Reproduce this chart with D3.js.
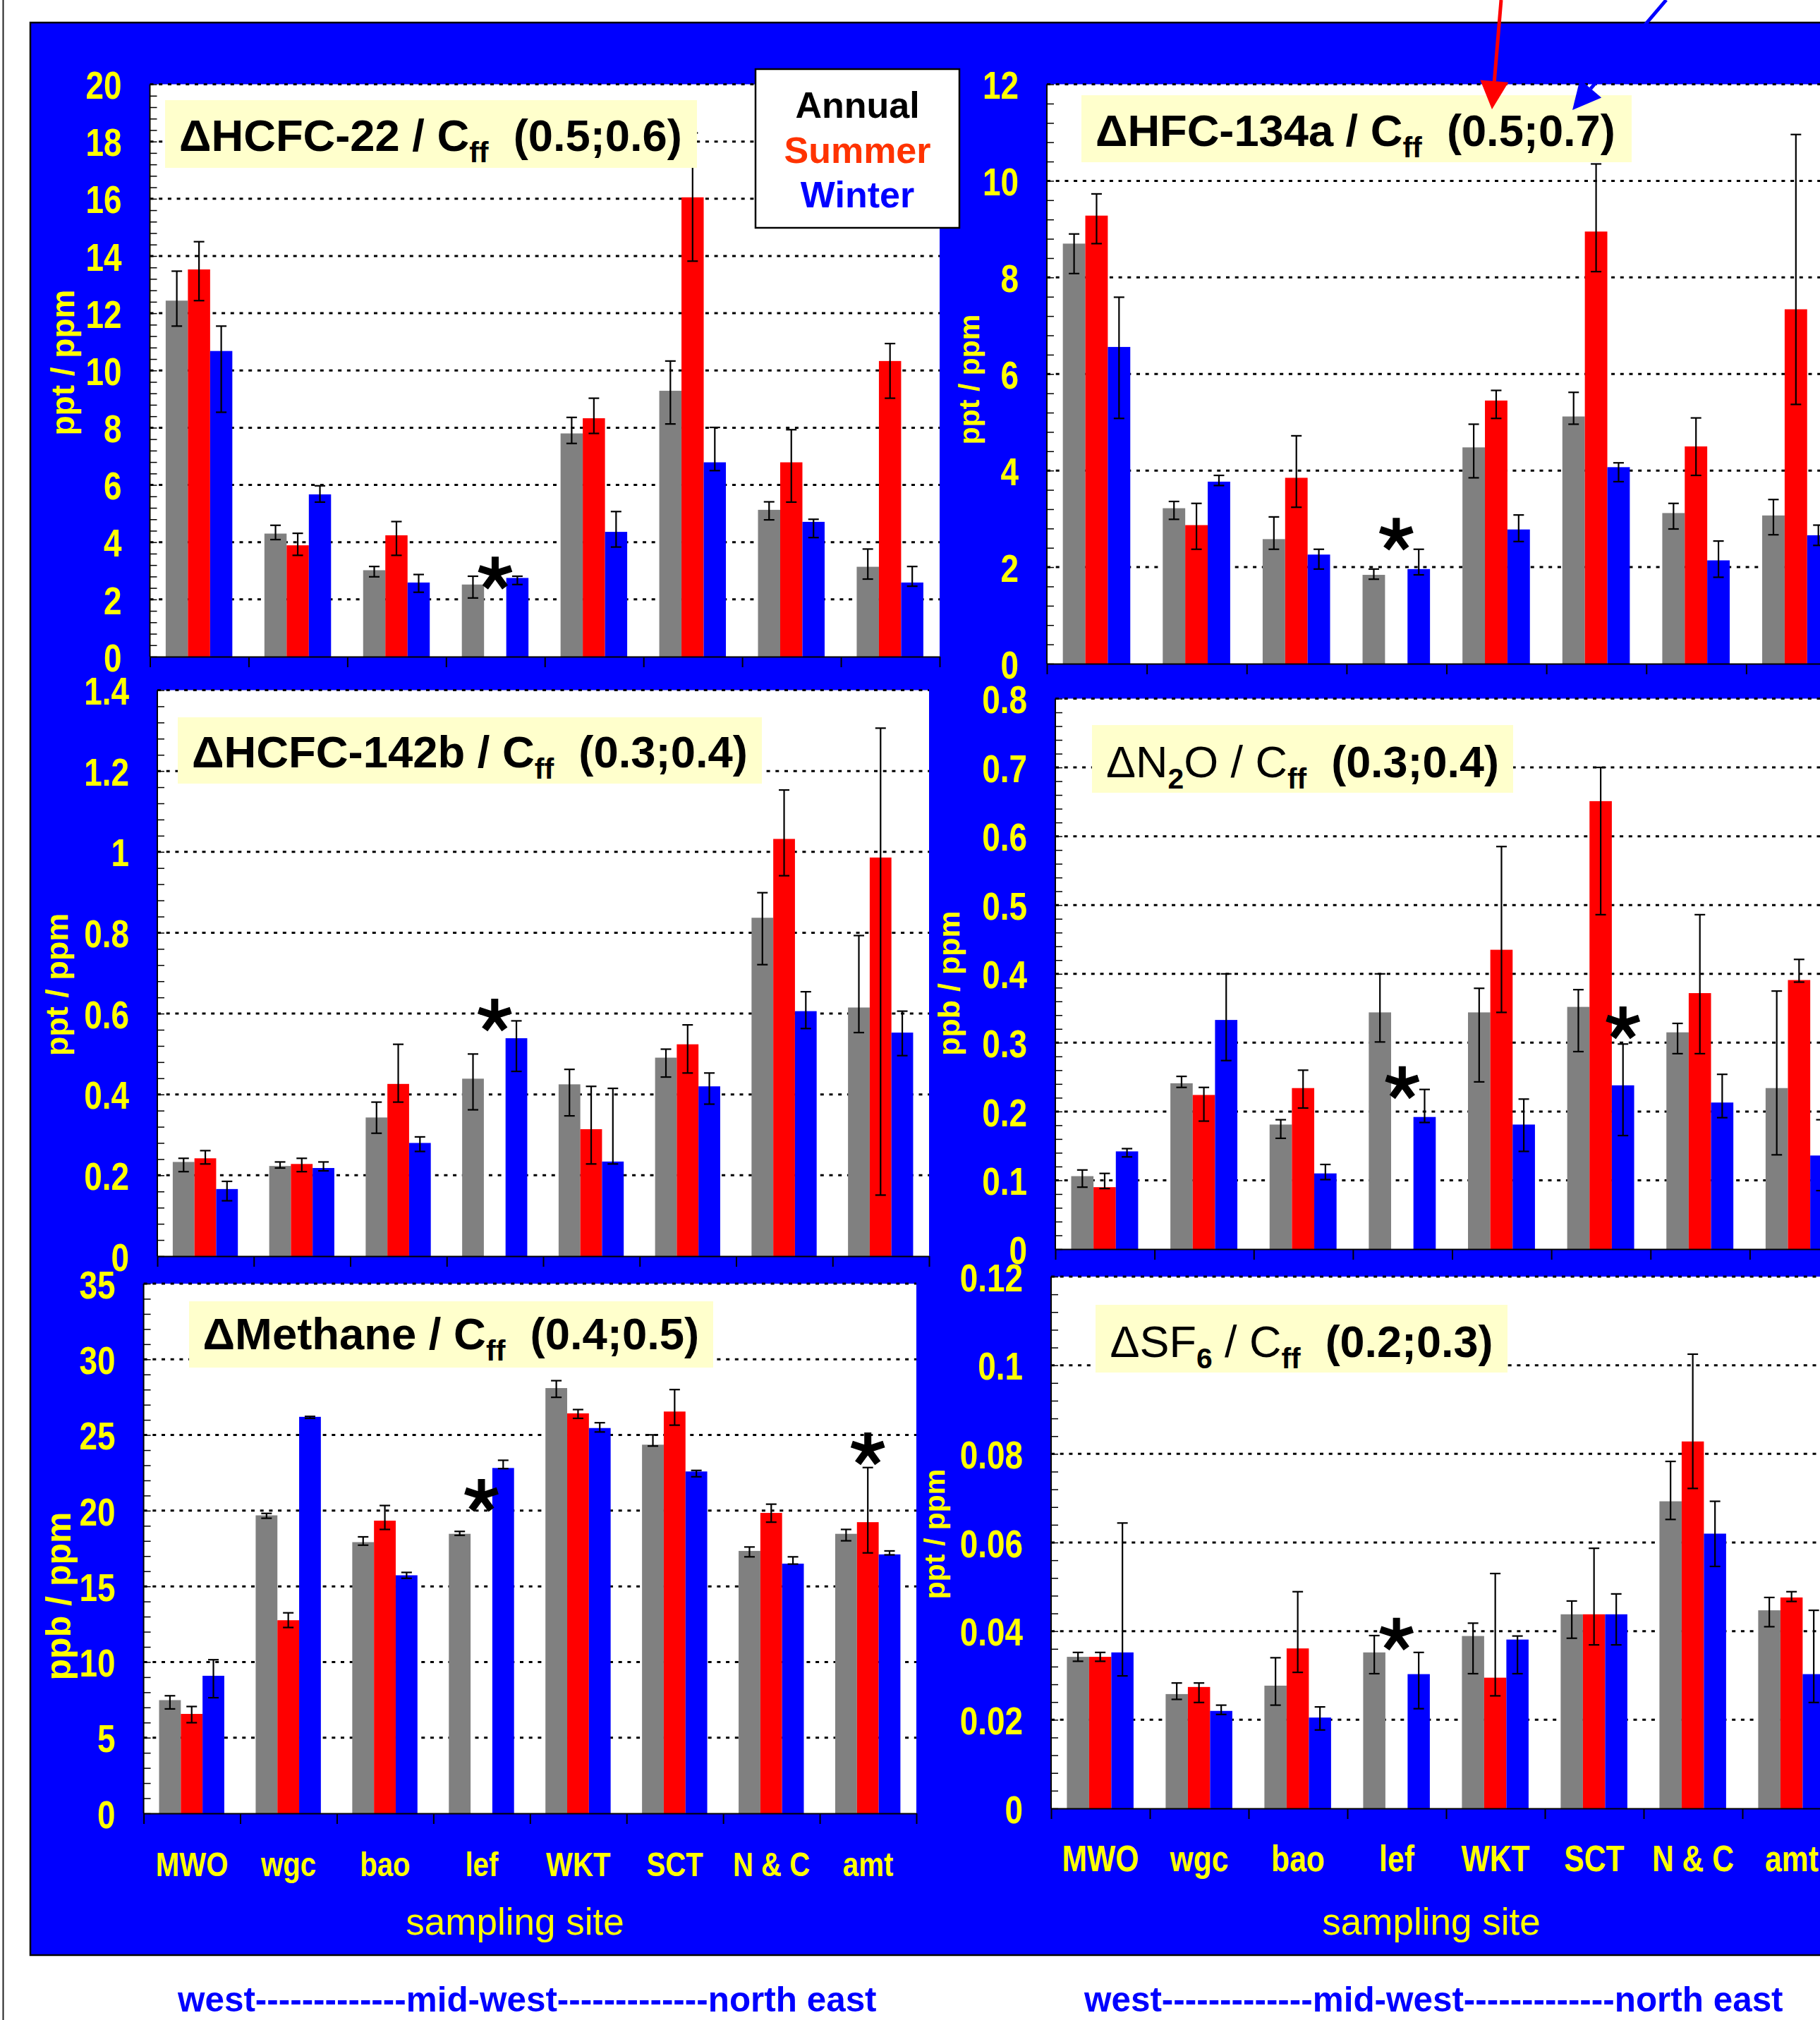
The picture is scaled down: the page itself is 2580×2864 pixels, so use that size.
<!DOCTYPE html>
<html>
<head>
<meta charset="utf-8">
<script src="https://cdn.jsdelivr.net/npm/d3@7"></script>
<style>
  body { margin: 0; background: #fff; }
  svg text { font-family: "Liberation Sans", Arial, sans-serif; }
</style>
</head>
<body>
<div id="chart"></div>
<script>
// categories
var sites = ["MWO", "wgc", "bao", "lef", "WKT", "SCT", "N & C", "amt"];
var seasons = ["Annual", "Summer", "Winter"];
var seasonColors = ["#808080", "#ff0000", "#0000ff"];

// dHCFC-22 / Cff
var hcfc22Annual = [12.44, 4.30, 3.02, 2.52, 7.80, 9.29, 5.13, 3.14];
var hcfc22Summer = [13.53, 3.89, 4.24, null, 8.33, 16.05, 6.79, 10.33];
var hcfc22Winter = [10.68, 5.67, 2.59, 2.75, 4.36, 6.79, 4.71, 2.59];
var hcfc22AnnualErr = [[11.55, 13.47], [4.09, 4.59], [2.79, 3.15], [2.05, 2.81], [7.45, 8.36], [8.13, 10.33], [4.78, 5.41], [2.71, 3.76]];
var hcfc22SummerErr = [[12.44, 14.50], [3.54, 4.31], [3.54, 4.72], null, [7.80, 9.03], [13.82, 18.30], [5.40, 7.93], [9.03, 10.94]];
var hcfc22WinterErr = [[8.54, 11.55], [5.40, 5.97], [2.25, 2.87], [2.52, 2.81], [3.83, 5.07], [6.50, 8.01], [4.16, 4.80], [2.46, 3.15]];
var hcfc22Ticks = ["0", "2", "4", "6", "8", "10", "12", "14", "16", "18", "20"];
var hcfc22Stars = [{site: "lef", season: "Summer", value: 2.9}];

// dHFC-134a / Cff
var hfc134aAnnual = [8.70, 3.22, 2.58, 1.84, 4.48, 5.12, 3.12, 3.07];
var hfc134aSummer = [9.28, 2.87, 3.85, null, 5.45, 8.95, 4.50, 7.34];
var hfc134aWinter = [6.56, 3.77, 2.26, 1.96, 2.78, 4.07, 2.14, 2.66];
var hfc134aAnnualErr = [[8.08, 8.90], [2.99, 3.36], [2.37, 3.04], [1.75, 1.96], [3.85, 4.96], [4.96, 5.62], [2.79, 3.32], [2.67, 3.40]];
var hfc134aSummerErr = [[8.70, 9.73], [2.37, 3.32], [3.24, 4.72], null, [5.08, 5.66], [8.12, 10.35], [3.90, 5.09], [5.37, 10.96]];
var hfc134aWinterErr = [[5.08, 7.59], [3.69, 3.90], [1.96, 2.37], [1.84, 2.37], [2.53, 3.08], [3.77, 4.16], [1.79, 2.54], [2.45, 2.87]];
var hfc134aTicks = ["0", "2", "4", "6", "8", "10", "12"];
var hfc134aStars = [{site: "lef", season: "Summer", value: 2.67}];

// dHCFC-142b / Cff
var hcfc142bAnnual = [0.233, 0.223, 0.343, 0.439, 0.425, 0.491, 0.837, 0.615];
var hcfc142bSummer = [0.242, 0.228, 0.426, null, 0.314, 0.524, 1.032, 0.986];
var hcfc142bWinter = [0.166, 0.218, 0.280, 0.539, 0.234, 0.420, 0.606, 0.553];
var hcfc142bAnnualErr = [[0.209, 0.242], [0.218, 0.233], [0.304, 0.381], [0.362, 0.500], [0.347, 0.462], [0.443, 0.512], [0.721, 0.899], [0.553, 0.793]];
var hcfc142bSummerErr = [[0.228, 0.261], [0.209, 0.242], [0.381, 0.524], null, [0.228, 0.420], [0.453, 0.572], [0.941, 1.153], [0.151, 1.306]];
var hcfc142bWinterErr = [[0.137, 0.185], [0.211, 0.233], [0.259, 0.295], [0.457, 0.582], [0.228, 0.415], [0.376, 0.453], [0.563, 0.654], [0.496, 0.606]];
var hcfc142bTicks = ["0", "0.2", "0.4", "0.6", "0.8", "1", "1.2", "1.4"];
var hcfc142bStars = [{site: "lef", season: "Summer", value: 0.595}];

// dN2O / Cff
var n2oAnnual = [0.106, 0.241, 0.181, 0.344, 0.344, 0.352, 0.315, 0.234];
var n2oSummer = [0.090, 0.224, 0.234, null, 0.435, 0.651, 0.372, 0.391];
var n2oWinter = [0.142, 0.333, 0.110, 0.192, 0.181, 0.238, 0.213, 0.136];
var n2oAnnualErr = [[0.090, 0.115], [0.235, 0.251], [0.161, 0.188], [0.301, 0.400], [0.243, 0.379], [0.287, 0.377], [0.284, 0.328], [0.137, 0.375]];
var n2oSummerErr = [[0.088, 0.110], [0.186, 0.235], [0.205, 0.260], null, [0.344, 0.585], [0.486, 0.700], [0.284, 0.486], [0.388, 0.421]];
var n2oWinterErr = [[0.134, 0.146], [0.274, 0.400], [0.101, 0.123], [0.184, 0.232], [0.142, 0.218], [0.165, 0.298], [0.191, 0.254], [0.085, 0.188]];
var n2oTicks = ["0", "0.1", "0.2", "0.3", "0.4", "0.5", "0.6", "0.7", "0.8"];
var n2oStars = [{site: "lef", season: "Summer", value: 0.241}, {site: "SCT", season: "Winter", value: 0.328}];

// dMethane / Cff
var ch4Annual = [7.48, 19.69, 17.92, 18.47, 28.10, 24.36, 17.34, 18.47];
var ch4Summer = [6.57, 12.76, 19.34, null, 26.43, 26.55, 19.85, 19.24];
var ch4Winter = [9.09, 26.20, 15.73, 22.82, 25.46, 22.59, 16.50, 17.11];
var ch4AnnualErr = [[6.90, 7.77], [19.50, 19.82], [17.72, 18.27], [18.37, 18.63], [27.49, 28.59], [24.27, 25.01], [16.95, 17.60], [18.01, 18.76]];
var ch4SummerErr = [[5.99, 7.06], [12.28, 13.25], [18.76, 20.34], null, [26.10, 26.68], [25.65, 28.00], [19.24, 20.43], [17.21, 22.85]];
var ch4WinterErr = [[7.64, 10.15], [26.10, 26.23], [15.53, 15.92], [22.78, 23.33], [25.20, 25.81], [22.24, 22.66], [16.47, 16.95], [17.08, 17.34]];
var ch4Ticks = ["0", "5", "10", "15", "20", "25", "30", "35"];
var ch4Stars = [{site: "lef", season: "Summer", value: 20.97}, {site: "amt", season: "Summer", value: 24.05}];

// dSF6 / Cff
var sf6Annual = [0.0342, 0.0258, 0.0277, 0.0352, 0.0389, 0.0438, 0.0693, 0.0447];
var sf6Summer = [0.0342, 0.0274, 0.0361, null, 0.0295, 0.0438, 0.0828, 0.0476];
var sf6Winter = [0.0352, 0.0220, 0.0205, 0.0303, 0.0381, 0.0438, 0.0620, 0.0303];
var sf6AnnualErr = [[0.0332, 0.0352], [0.0246, 0.0283], [0.0233, 0.0340], [0.0304, 0.0390], [0.0304, 0.0418], [0.0384, 0.0468], [0.0652, 0.0783], [0.0410, 0.0476]];
var sf6SummerErr = [[0.0332, 0.0352], [0.0239, 0.0283], [0.0307, 0.0489], null, [0.0254, 0.0530], [0.0369, 0.0587], [0.0722, 0.1025], [0.0467, 0.0489]];
var sf6WinterErr = [[0.0299, 0.0644], [0.0212, 0.0233], [0.0177, 0.0229], [0.0225, 0.0352], [0.0304, 0.0389], [0.0369, 0.0484], [0.0546, 0.0693], [0.0239, 0.0447]];
var sf6Ticks = ["0", "0.02", "0.04", "0.06", "0.08", "0.1", "0.12"];
var sf6Stars = [{site: "lef", season: "Summer", value: 0.0392}];

// title pieces: [text, style]
var hcfc22Title = [["\u0394HCFC-22 / C", "b"], ["ff", "sub"], ["  (0.5;0.6)", "b"]];
var hfc134aTitle = [["\u0394HFC-134a / C", "b"], ["ff", "sub"], ["  (0.5;0.7)", "b"]];
var hcfc142bTitle = [["\u0394HCFC-142b / C", "b"], ["ff", "sub"], ["  (0.3;0.4)", "b"]];
var n2oTitle = [["\u0394N", "n"], ["2", "sub"], ["O / C", "n"], ["ff", "sub"], ["  ", "n"], ["(0.3;0.4)", "b"]];
var ch4Title = [["\u0394Methane / C", "b"], ["ff", "sub"], ["  (0.4;0.5)", "b"]];
var sf6Title = [["\u0394SF", "n"], ["6", "sub"], [" / C", "n"], ["ff", "sub"], ["  ", "n"], ["(0.2;0.3)", "b"]];

var regionLabel = "west-------------mid-west-------------north east";

// page size
var svgWidth = 2580;
var svgHeight = 2864;

// no narrow face installed: squeeze the bold face instead
var squeeze = 0.82;

var svg = d3.select("#chart")
  .append("svg")
  .attr("width", svgWidth)
  .attr("height", svgHeight);

svg.append("rect").attr("width", svgWidth).attr("height", svgHeight).attr("fill", "#fff");
svg.append("line")
  .attr("x1", 4.5).attr("x2", 4.5).attr("y1", 0).attr("y2", svgHeight)
  .attr("stroke", "#222").attr("stroke-width", 2);

// blue backdrop
svg.append("rect")
  .attr("x", 43).attr("y", 32)
  .attr("width", svgWidth).attr("height", 2772 - 32)
  .attr("fill", "#0000ff")
  .attr("stroke", "#000").attr("stroke-width", 2.5);

// layout of each panel
var panels = [
  {left: 212.5, right: 1332, top: 119.5, bottom: 931, ticks: hcfc22Ticks,
   series: [hcfc22Annual, hcfc22Summer, hcfc22Winter], errs: [hcfc22AnnualErr, hcfc22SummerErr, hcfc22WinterErr],
   stars: hcfc22Stars, yTitle: "ppt / ppm", yTitlePos: [89, 514, 46],
   title: hcfc22Title, tBox: [234, 142, 988, 238], tPos: [254, 214, 713]},
  {left: 1484, right: 2617, top: 119.5, bottom: 941, ticks: hfc134aTicks,
   series: [hfc134aAnnual, hfc134aSummer, hfc134aWinter], errs: [hfc134aAnnualErr, hfc134aSummerErr, hfc134aWinterErr],
   stars: hfc134aStars, yTitle: "ppt / ppm", yTitlePos: [1374, 538, 41],
   title: hfc134aTitle, tBox: [1533, 135, 2313, 230], tPos: [1553, 207, 737]},
  {left: 223, right: 1317, top: 978.5, bottom: 1781, ticks: hcfc142bTicks,
   series: [hcfc142bAnnual, hcfc142bSummer, hcfc142bWinter], errs: [hcfc142bAnnualErr, hcfc142bSummerErr, hcfc142bWinterErr],
   stars: hcfc142bStars, yTitle: "ppt / ppm", yTitlePos: [80, 1396, 45],
   title: hcfc142bTitle, tBox: [252, 1017, 1080, 1111], tPos: [272, 1088, 788]},
  {left: 1496, right: 2621, top: 990.5, bottom: 1771, ticks: n2oTicks,
   series: [n2oAnnual, n2oSummer, n2oWinter], errs: [n2oAnnualErr, n2oSummerErr, n2oWinterErr],
   stars: n2oStars, yTitle: "ppb / ppm", yTitlePos: [1345, 1394, 43],
   title: n2oTitle, tBox: [1548, 1028, 2145, 1124], tPos: [1568, 1102, 557]},
  {left: 203.6, right: 1299, top: 1820, bottom: 2571, ticks: ch4Ticks,
   series: [ch4Annual, ch4Summer, ch4Winter], errs: [ch4AnnualErr, ch4SummerErr, ch4WinterErr],
   stars: ch4Stars, yTitle: "ppb / ppm", yTitlePos: [82, 2263, 50],
   title: ch4Title, tBox: [268, 1845, 1011, 1939], tPos: [287.5, 1913, 704],
   xLabels: 49, xBase: 2660, siteTitle: 730},
  {left: 1490, right: 2610, top: 1810, bottom: 2564, ticks: sf6Ticks,
   series: [sf6Annual, sf6Summer, sf6Winter], errs: [sf6AnnualErr, sf6SummerErr, sf6WinterErr],
   stars: sf6Stars, yTitle: "ppt / ppm", yTitlePos: [1325, 2175, 41],
   title: sf6Title, tBox: [1553, 1850, 2137, 1946], tPos: [1573.5, 1924, 543],
   xLabels: 52, xBase: 2653, siteTitle: 2029}
];

panels.forEach(drawPanel);

function drawPanel(p) {
  var g = svg.append("g");
  var tickVals = p.ticks.map(Number);
  var x0 = d3.scaleBand().domain(sites).range([p.left, p.right]);
  var bw = x0.bandwidth();
  var xs = d3.scaleBand().domain(seasons).range([bw * 0.16, bw * 0.835]);
  var y = d3.scaleLinear().domain([0, d3.max(tickVals)]).range([p.bottom, p.top]);

  // plot area
  g.append("rect")
    .attr("x", p.left).attr("y", p.top)
    .attr("width", p.right - p.left).attr("height", p.bottom - p.top)
    .attr("fill", "#fff");

  // dotted grid
  g.selectAll(".grid")
    .data(tickVals.slice(1))
    .enter()
    .append("line")
    .attr("x1", p.left).attr("x2", p.right)
    .attr("y1", d => y(d)).attr("y2", d => y(d))
    .attr("stroke", "#000")
    .attr("stroke-width", 3)
    .attr("stroke-dasharray", "5 7.7");

  // minor ticks inside the plot
  var step = tickVals[1] - tickVals[0];
  var minor = d3.range(0, (tickVals.length - 1) * 5 + 1).map(i => i * step / 5);
  g.append("g")
    .attr("transform", `translate(${p.left},0)`)
    .call(d3.axisRight(y).tickValues(minor).tickSize(10).tickFormat(""))
    .call(a => a.select(".domain").remove())
    .selectAll("line").attr("stroke", "#000").attr("stroke-width", 1.5);

  // bars
  var rows = sites.map((s, i) => ({
    site: s,
    vals: seasons.map((k, j) => ({season: k, v: p.series[j][i], err: p.errs[j][i], color: seasonColors[j]}))
  }));
  var groups = g.selectAll(".site")
    .data(rows)
    .enter()
    .append("g")
    .attr("transform", d => `translate(${x0(d.site)},0)`);

  groups.selectAll("rect")
    .data(d => d.vals.filter(v => v.v != null))
    .enter()
    .append("rect")
    .attr("x", d => xs(d.season))
    .attr("width", xs.bandwidth())
    .attr("y", d => y(d.v))
    .attr("height", d => p.bottom - y(d.v))
    .attr("fill", d => d.color);

  // error bars
  var cap = 7.5;
  var eb = groups.selectAll(".err")
    .data(d => d.vals.filter(v => v.err))
    .enter()
    .append("g")
    .attr("stroke", "#000")
    .attr("stroke-width", 2.2);
  eb.append("line")
    .attr("x1", d => xs(d.season) + xs.bandwidth() / 2)
    .attr("x2", d => xs(d.season) + xs.bandwidth() / 2)
    .attr("y1", d => y(d.err[0])).attr("y2", d => y(d.err[1]));
  [0, 1].forEach(function(k) {
    eb.append("line")
      .attr("x1", d => xs(d.season) + xs.bandwidth() / 2 - cap)
      .attr("x2", d => xs(d.season) + xs.bandwidth() / 2 + cap)
      .attr("y1", d => y(d.err[k])).attr("y2", d => y(d.err[k]));
  });

  // y axis line and labels
  g.append("line")
    .attr("x1", p.left).attr("x2", p.left).attr("y1", p.top).attr("y2", p.bottom)
    .attr("stroke", "#000").attr("stroke-width", 2);
  g.append("g")
    .attr("transform", `translate(${p.left},0)`)
    .call(d3.axisLeft(y).tickValues(tickVals).tickSize(0).tickPadding(40).tickFormat((d, i) => p.ticks[i]))
    .call(a => a.select(".domain").remove())
    .selectAll("text")
    .attr("fill", "#ffff00")
    .attr("x", -40 / squeeze)
    .attr("dy", "0.36em")
    .attr("transform", `scale(${squeeze},1)`)
    .style("font-weight", "bold")
    .style("font-size", "56px");

  // x axis with ticks at group boundaries
  var xb = d3.scaleLinear().domain([0, sites.length]).range([p.left, p.right]);
  g.append("g")
    .attr("transform", `translate(0,${p.bottom})`)
    .call(d3.axisBottom(xb).tickValues(d3.range(sites.length + 1)).tickSize(15).tickSizeOuter(0).tickFormat(""))
    .call(a => a.selectAll("line,path").attr("stroke", "#000").attr("stroke-width", 2));

  if (p.xLabels) {
    g.append("g")
      .attr("transform", `translate(0,${p.bottom})`)
      .call(d3.axisBottom(x0).tickSize(0))
      .call(a => a.select(".domain").remove())
      .selectAll("text")
      .attr("y", p.xBase - p.bottom).attr("dy", null)
      .attr("transform", `scale(${squeeze},1)`)
      .attr("fill", "#ffff00")
      .style("font-weight", "bold")
      .style("font-size", p.xLabels + "px");
    g.append("text")
      .attr("x", p.siteTitle).attr("y", 2743)
      .attr("text-anchor", "middle")
      .attr("fill", "#ffff00")
      .style("font-size", "53px")
      .text("sampling site");
  }

  // y axis title
  g.append("text")
    .attr("transform", `translate(${p.yTitlePos[0]},${p.yTitlePos[1]}) rotate(-90)`)
    .attr("text-anchor", "middle")
    .attr("dy", "0.35em")
    .attr("fill", "#ffff00")
    .style("font-weight", "bold")
    .style("font-size", p.yTitlePos[2] + "px")
    .text(p.yTitle);

  // title box
  g.append("rect")
    .attr("x", p.tBox[0]).attr("y", p.tBox[1])
    .attr("width", p.tBox[2] - p.tBox[0]).attr("height", p.tBox[3] - p.tBox[1])
    .attr("fill", "#ffffcc");
  var title = g.append("text")
    .attr("x", p.tPos[0]).attr("y", p.tPos[1])
    .style("font-size", "60px")
    .style("white-space", "pre");
  var down = false;
  p.title.forEach(function(part) {
    var ts = title.append("tspan").text(part[0]);
    if (part[1] == "sub") {
      ts.style("font-size", "0.65em").style("font-weight", "bold").attr("dy", "0.38em");
      down = true;
    } else {
      ts.style("font-weight", part[1] == "b" ? "bold" : "normal");
      if (down) { ts.attr("dy", "-0.247em"); down = false; }
    }
  });
  // fit to the measured width
  var w = title.node().getBBox().width;
  title.style("font-size", (60 * p.tPos[2] / w) + "px");

  // asterisks mark missing summer data
  var star = d3.range(5).map(i => -90 + i * 72);
  g.selectAll(".star")
    .data(p.stars)
    .enter()
    .append("path")
    .attr("transform", d => `translate(${x0(d.site) + xs(d.season) + xs.bandwidth() / 2},${y(d.value)})`)
    .attr("d", star.map(a => `M0,0L${24 * Math.cos(a * Math.PI / 180)},${24 * Math.sin(a * Math.PI / 180)}`).join(""))
    .attr("stroke", "#000")
    .attr("stroke-width", 10);
}

// legend
var legend = svg.append("g");
legend.append("rect")
  .attr("x", 1071).attr("y", 98).attr("width", 289).attr("height", 225)
  .attr("fill", "#fff").attr("stroke", "#000").attr("stroke-width", 2.5);
legend.selectAll("text")
  .data(seasons)
  .enter()
  .append("text")
  .attr("x", 1215.5)
  .attr("y", (d, i) => 167 + i * 63.5)
  .attr("text-anchor", "middle")
  .attr("fill", (d, i) => ["#000", "#ff3300", "#0000ff"][i])
  .style("font-weight", "bold")
  .style("font-size", "52px")
  .text(d => d);

// west to east labels under the frame
[252, 1537].forEach(function(x) {
  var t = svg.append("text")
    .attr("x", x).attr("y", 2852)
    .attr("fill", "#0000ff")
    .style("font-weight", "bold")
    .style("font-size", "50px")
    .text(regionLabel);
  var w = t.node().getBBox().width;
  t.style("font-size", (50 * 992 / w) + "px");
});

// arrows pointing at the title of HFC-134a
var arrows = [
  {from: [2128, 0], to: [2115, 155], color: "#ff0000"},
  {from: [2362, 0], to: [2229, 156], color: "#0000ff"}
];
arrows.forEach(function(a) {
  var dx = a.to[0] - a.from[0], dy = a.to[1] - a.from[1];
  var len = Math.sqrt(dx * dx + dy * dy);
  var ux = dx / len, uy = dy / len;
  var headL = 40, headW = 20;
  var bx = a.to[0] - ux * headL, by = a.to[1] - uy * headL;
  svg.append("line")
    .attr("x1", a.from[0]).attr("y1", a.from[1]).attr("x2", bx).attr("y2", by)
    .attr("stroke", a.color).attr("stroke-width", 5);
  svg.append("path")
    .attr("d", `M${a.to[0]},${a.to[1]}L${bx - uy * headW},${by + ux * headW}L${bx + uy * headW},${by - ux * headW}Z`)
    .attr("fill", a.color);
});
</script>
</body>
</html>
